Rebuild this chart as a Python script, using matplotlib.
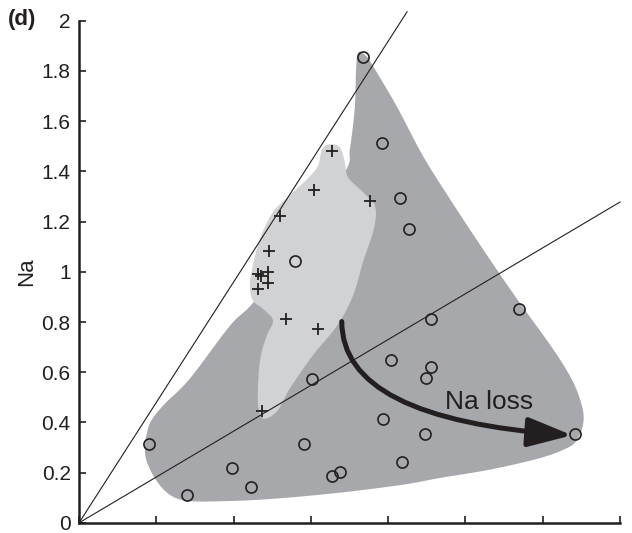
import numpy as np
import matplotlib
matplotlib.use("Agg")
import matplotlib.pyplot as plt
from matplotlib.patches import Polygon, FancyArrowPatch
from matplotlib.path import Path

plt.rcParams['font.family'] = ['Liberation Sans', 'DejaVu Sans']

# samples plotted as open circles
circ_x = [0.182, 0.279, 0.396, 0.446, 0.560, 0.583, 0.603, 0.654, 0.675, 0.734, 0.783,
          0.787, 0.807, 0.831, 0.835, 0.855, 0.895, 0.899, 0.911, 0.911, 1.139, 1.283]
circ_y = [0.313, 0.112, 0.217, 0.143, 1.044, 0.315, 0.575, 0.187, 0.204, 1.856, 1.512,
          0.415, 0.650, 1.295, 0.241, 1.169, 0.353, 0.577, 0.620, 0.813, 0.850, 0.353]

# samples plotted as crosses
cross_x = [0.656, 0.607, 0.752, 0.519, 0.491, 0.464, 0.472, 0.488, 0.488, 0.463, 0.536, 0.619, 0.474]
cross_y = [1.483, 1.327, 1.281, 1.222, 1.081, 0.991, 0.983, 1.000, 0.955, 0.933, 0.812, 0.774, 0.447]

# outline of the dark field (all samples)
dark_x = [0.723, 0.744, 0.761, 0.822, 0.890, 0.960, 1.045, 1.133, 1.226, 1.278, 1.303, 1.304,
          1.288, 1.263, 1.193, 1.063, 0.934, 0.838, 0.667, 0.494, 0.365, 0.279, 0.235, 0.201,
          0.175, 0.171, 0.179, 0.191, 0.223, 0.287, 0.391, 0.455, 0.572, 0.688, 0.701, 0.714, 0.717]
dark_y = [1.874, 1.858, 1.819, 1.660, 1.462, 1.290, 1.091, 0.893, 0.694, 0.563, 0.456, 0.389,
          0.329, 0.298, 0.258, 0.212, 0.179, 0.152, 0.119, 0.095, 0.086, 0.088, 0.112, 0.167,
          0.246, 0.311, 0.377, 0.417, 0.476, 0.575, 0.786, 0.885, 1.131, 1.397, 1.488, 1.659, 1.806]

# outline of the light field (cross samples)
light_x = [0.649, 0.675, 0.688, 0.696, 0.735, 0.766, 0.763, 0.735, 0.709, 0.668, 0.605, 0.546,
           0.512, 0.476, 0.463, 0.468, 0.486, 0.502, 0.476, 0.450, 0.442, 0.448, 0.468, 0.502,
           0.541, 0.590, 0.618, 0.629]
light_y = [1.508, 1.496, 1.437, 1.377, 1.317, 1.262, 1.171, 1.040, 0.905, 0.786, 0.667, 0.536,
           0.444, 0.417, 0.484, 0.643, 0.746, 0.806, 0.853, 0.885, 0.944, 1.012, 1.131, 1.238,
           1.298, 1.369, 1.421, 1.488]

# reference lines through the origin
line_ends_x = [0.849, 1.4]
line_ends_y = [2.036, 1.278]

# Na loss arrow: start, control, end
arrow_x = [0.680, 0.680, 1.276]
arrow_y = [0.802, 0.413, 0.349]

y_ticks = [0, 0.2, 0.4, 0.6, 0.8, 1, 1.2, 1.4, 1.6, 1.8, 2]
y_labels = ['0', '0.2', '0.4', '0.6', '0.8', '1', '1.2', '1.4', '1.6', '1.8', '2']
x_ticks = [0, 0.2, 0.4, 0.6, 0.8, 1.0, 1.2, 1.4]


def smooth_closed(xs, ys, n=12):
    # closed Catmull-Rom spline through the outline vertices
    p = np.column_stack([xs, ys])
    m = len(p)
    out = []
    for i in range(m):
        p0, p1, p2, p3 = p[i - 1], p[i], p[(i + 1) % m], p[(i + 2) % m]
        for t in np.linspace(0, 1, n, endpoint=False):
            t2, t3 = t * t, t * t * t
            out.append(0.5 * (2 * p1 + (-p0 + p2) * t + (2 * p0 - 5 * p1 + 4 * p2 - p3) * t2
                              + (-p0 + 3 * p1 - 3 * p2 + p3) * t3))
    return np.array(out)


fig = plt.figure(figsize=(6.32, 5.33), dpi=100)
ax = fig.add_axes([0.125, 0.019, 0.856, 0.942])

ax.add_patch(Polygon(smooth_closed(dark_x, dark_y), closed=True, fc='#a7a8ab', ec='none', zorder=1))
ax.add_patch(Polygon(smooth_closed(light_x, light_y), closed=True, fc='#d1d2d4', ec='none', zorder=2))

for ex, ey in zip(line_ends_x, line_ends_y):
    ax.plot([0, ex], [0, ey], color='#231f20', lw=0.8, zorder=3, clip_on=False)

ax.plot(circ_x, circ_y, 'o', ms=8, mfc='none', mec='#231f20', mew=1.2, zorder=5)
ax.plot(cross_x, cross_y, '+', ms=8, mec='#231f20', mew=1.3, zorder=5)

arrow_path = Path(list(zip(arrow_x, arrow_y)), [Path.MOVETO, Path.CURVE3, Path.CURVE3])
ax.add_patch(FancyArrowPatch(path=arrow_path, arrowstyle='-|>,head_length=1.35,head_width=0.45',
                             mutation_scale=20, lw=3.6, color='#231f20', zorder=6,
                             shrinkA=0, shrinkB=0))
ax.text(1.06, 0.48, 'Na loss', fontsize=19, color='#231f20', ha='center', va='center', zorder=6)

ax.set_xlim(0, 1.4)
ax.set_ylim(0, 2)
ax.set_xticks(x_ticks)
ax.set_xticklabels([])
ax.set_yticks(y_ticks)
ax.set_yticklabels(y_labels)
ax.tick_params(direction='in', length=5, width=1.2, labelsize=15, pad=6, colors='#231f20')
ax.spines['top'].set_visible(False)
ax.spines['right'].set_visible(False)
for s in ['left', 'bottom']:
    ax.spines[s].set_linewidth(1.8)
    ax.spines[s].set_color('#231f20')
ax.set_ylabel('Na', fontsize=16, labelpad=3, color='#231f20')
fig.text(0.012, 0.963, '(d)', fontsize=16, fontweight='bold', color='#231f20', va='center')

fig.savefig('out.png', dpi=100)
